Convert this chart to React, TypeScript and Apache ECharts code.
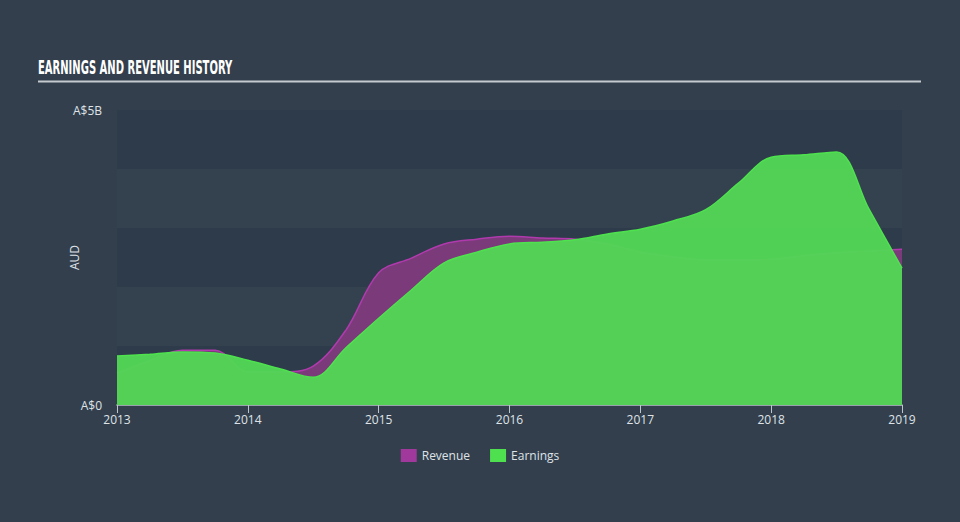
import React, { useEffect, useRef } from "react";
import * as echarts from "echarts";

const years = [2013, 2013.25, 2013.5, 2013.75, 2014, 2014.25, 2014.5, 2014.75, 2015, 2015.25, 2015.5, 2015.75, 2016, 2016.25, 2016.5, 2016.75, 2017, 2017.25, 2017.5, 2017.75, 2018, 2018.25, 2018.5, 2018.75, 2019];
const revenue = [0.54, 0.75, 0.93, 0.93, 0.56, 0.56, 0.66, 1.27, 2.24, 2.49, 2.73, 2.81, 2.86, 2.83, 2.81, 2.73, 2.59, 2.51, 2.46, 2.46, 2.47, 2.53, 2.58, 2.61, 2.64];
const earnings = [0.83, 0.86, 0.9, 0.88, 0.76, 0.61, 0.47, 0.97, 1.47, 1.95, 2.41, 2.59, 2.73, 2.76, 2.8, 2.9, 2.98, 3.12, 3.31, 3.76, 4.2, 4.24, 4.29, 3.31, 2.32];
const yTickLabels: Record<number, string> = { 0: "A$0", 5: "A$5B" };
const titleText = "EARNINGS AND REVENUE HISTORY";

export default function App() {
  const ref = useRef<HTMLDivElement>(null);
  useEffect(() => {
    document.body.style.margin = "0";
    const chart = echarts.init(ref.current!, null, { renderer: "svg" });
    const font = "'Open Sans', sans-serif";
    chart.setOption({
      animation: false,
      backgroundColor: "#333f4d",
      graphic: [
        {
          type: "text",
          x: 38,
          y: 67,
          scaleX: 0.57,
          style: {
            text: titleText,
            fill: "#ffffff",
            font: "bold 19.5px 'Liberation Sans Narrow', 'DejaVu Sans Condensed', sans-serif",
            verticalAlign: "middle",
          },
        },
        {
          type: "line",
          shape: { x1: 38, y1: 81.5, x2: 921, y2: 81.5 },
          style: { stroke: "#c5cad0", lineWidth: 2 },
        },
      ],
      legend: {
        left: "center",
        top: 444,
        itemWidth: 16,
        itemHeight: 13,
        itemGap: 20,
        icon: "rect",
        textStyle: { color: "#dfe3e8", fontFamily: font, fontSize: 12 },
        data: [
          { name: "Revenue", itemStyle: { color: "#a0399b" } },
          { name: "Earnings", itemStyle: { color: "#4fe04f" } },
        ],
      },
      grid: { left: 117, right: 58, top: 110, bottom: 117 },
      xAxis: {
        type: "value",
        min: 2013,
        max: 2019,
        interval: 1,
        axisLine: { show: true, lineStyle: { color: "#bcc4cc", width: 1.5 } },
        axisTick: { show: true, length: 8, lineStyle: { color: "#bcc4cc" } },
        axisLabel: { color: "#dfe3e8", fontFamily: font, fontSize: 12, margin: 8, formatter: (v: number) => String(v) },
        splitLine: { show: false },
      },
      yAxis: {
        type: "value",
        min: 0,
        max: 5,
        interval: 1,
        name: "AUD",
        nameLocation: "middle",
        nameGap: 37,
        nameMoveOverlap: false,
        nameRotate: 90,
        nameTextStyle: { color: "#dfe3e8", fontFamily: font, fontSize: 12 },
        axisLine: { show: false },
        axisTick: { show: false },
        axisLabel: {
          color: "#dfe3e8",
          fontFamily: font,
          fontSize: 12,
          margin: 15,
          formatter: (v: number) => yTickLabels[v] ?? "",
        },
        splitLine: { show: false },
        splitArea: { show: true, areaStyle: { color: ["#2e3b4a", "#344250"] } },
      },
      series: [
        {
          name: "Revenue",
          type: "line",
          smooth: 0.35,
          symbol: "none",
          data: years.map((y, i) => [y, revenue[i]]),
          lineStyle: { color: "#b03aad", width: 1.5 },
          itemStyle: { color: "#a0399b" },
          areaStyle: { color: "#7b3a7a", opacity: 1 },
          z: 2,
        },
        {
          name: "Earnings",
          type: "line",
          smooth: 0.35,
          symbol: "none",
          data: years.map((y, i) => [y, earnings[i]]),
          lineStyle: { color: "#4ee24e", width: 1.5 },
          itemStyle: { color: "#4fe04f" },
          areaStyle: { color: "#52d655", opacity: 0.96 },
          z: 3,
        },
      ],
    });
    return () => chart.dispose();
  }, []);
  return <div ref={ref} style={{ position: "absolute", left: 0, top: 0, width: 960, height: 522 }} />;
}
